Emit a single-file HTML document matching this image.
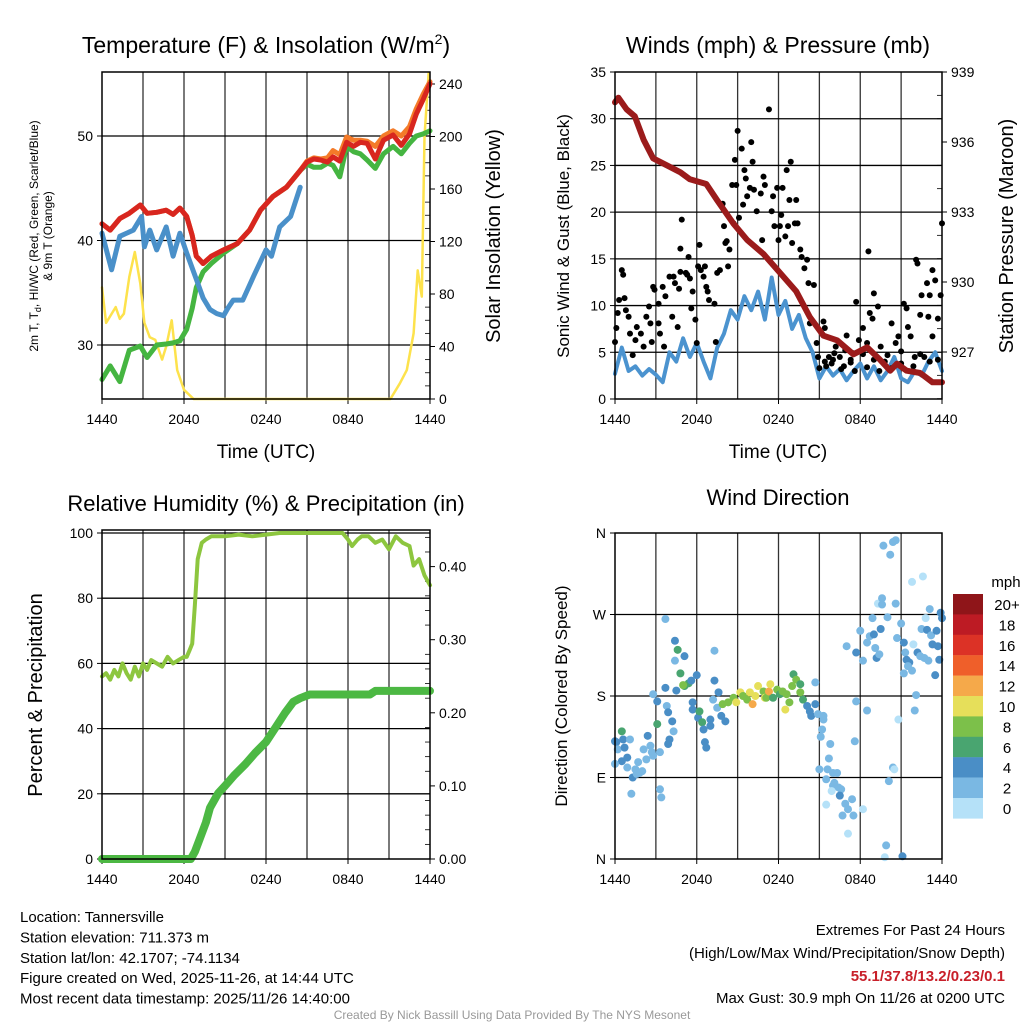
<!DOCTYPE html>
<html><head><meta charset="utf-8"><style>
html,body{margin:0;padding:0;background:#fff;}
svg{display:block;font-family:"Liberation Sans",sans-serif;}
</style></head><body>
<svg id="chart" width="1024" height="1024" viewBox="0 0 1024 1024"></svg>
<script>
// ---------- DATA ----------
const xTickLabels = ["1440","2040","0240","0840","1440"];
// Temperature panel
const tHours = [0,0.6,1.3,2.0,2.8,3.3,4.0,4.7,5.2,5.7,6.2,6.6,6.9,7.4,8.0,8.9,9.9,10.8,11.6,12.5,13.5,14.5,15.0,15.5,16.0,16.5,16.9,17.4,17.9,18.4,18.9,19.4,20.0,20.6,21.3,21.9,22.5,23.0,23.5,24.0];
const tempRed = [41.6,41.0,42.1,42.6,43.4,42.6,42.7,42.9,42.5,43.1,42.3,40.5,38.5,37.8,38.5,39.1,39.7,41.0,42.9,44.2,45.1,46.7,47.5,47.8,47.7,47.5,48.0,47.6,49.4,49.0,49.4,49.3,47.8,49.6,50.1,49.1,50.2,52.1,53.5,55.0];
const temp9mOrange = [41.6,41.0,42.1,42.6,43.4,42.6,42.7,42.9,42.5,43.1,42.3,40.5,38.5,37.8,38.5,39.1,39.7,41.0,42.9,44.2,45.1,46.7,47.6,47.9,47.8,47.9,48.6,48.2,49.9,49.6,49.6,49.5,49.0,50.0,50.5,50.0,50.9,52.6,54.0,55.2];
const dewGreen = [26.7,28.0,26.5,29.5,29.9,28.8,30.0,30.1,30.2,30.4,31.5,33.5,35.5,37.0,37.8,38.8,39.7,41.0,42.9,44.2,45.1,46.7,47.3,47.0,47.0,47.4,47.2,46.1,49.0,48.5,48.3,47.7,46.9,48.3,49.0,48.3,49.3,50.0,50.2,50.5];
const wcHours = [0,0.7,1.3,2.3,2.9,3.1,3.5,4.0,4.7,5.2,5.7,6.2,6.9,7.4,7.9,8.4,8.9,9.2,9.6,10.3,11.1,12.0,12.4,13.0,13.8,14.5];
const windChillBlue = [40.7,37.2,40.4,41.0,42.3,39.4,41.0,39.1,41.3,38.5,40.7,38.8,36.3,34.5,33.4,33.0,32.8,33.5,34.3,34.3,36.6,39.1,38.5,41.3,42.3,45.1];
const solHours = [0,0.3,1.0,1.3,1.6,2.0,2.4,2.8,3.1,3.5,3.9,4.4,4.7,5.1,5.5,6.0,6.7,21.1,21.8,22.3,22.8,23.1,23.4,23.6,23.9];
const solarYellow = [85,58,70,61,65,93,112,88,58,47,45,30,40,60,22,7,0,0,12,22,50,98,78,200,248];
// Winds panel
const presHours = [0,0.25,0.85,1.45,2.1,2.8,3.8,4.8,5.5,6.7,7.5,8.7,9.7,10.9,12.1,13.3,14.3,15.3,16.3,17.5,18.5,19.4,20.2,20.7,21.4,22.4,23.3,24];
const pressureMaroon = [937.7,937.9,937.4,937.1,936.1,935.3,935.0,934.7,934.4,934.2,933.5,932.5,931.8,931.2,930.4,929.6,928.5,927.7,927.5,926.9,927.2,926.7,926.2,926.5,926.2,926.1,925.7,925.7];
const sonicHours = [0,0.5,1,1.5,2,2.5,3,3.5,4,4.5,5,5.5,6,6.5,7,7.5,8,8.5,9,9.5,10,10.5,11,11.5,12,12.5,13,13.5,14,14.5,15,15.5,16,16.5,17,17.5,18,18.5,19,19.5,20,20.5,21,21.5,22,22.5,23,23.5,24];
const sonicWindBlue = [2.7,5.5,3.0,3.5,2.5,3.2,2.6,1.8,5.0,4.0,6.5,4.5,6.0,4.0,2.2,5.5,7.0,9.5,8.5,11.0,9.5,11.5,8.5,13.0,9.0,10.5,7.5,9.0,6.5,5.0,2.2,3.5,2.5,3.2,2.0,3.0,3.8,2.2,3.5,2.0,3.0,4.5,2.2,1.8,3.0,2.5,4.0,5.0,3.0];
const gustHours = [0.0,0.1,0.2,0.5,0.6,0.3,0.7,0.8,1.0,1.1,1.3,1.5,1.6,1.9,2.1,2.3,2.5,2.6,2.7,2.8,2.9,3.2,3.2,3.3,3.5,3.6,3.7,4.0,4.2,4.3,4.4,4.6,4.7,4.8,4.8,4.9,5.2,5.3,5.4,5.5,5.6,5.7,5.9,6.0,6.1,6.2,6.3,6.5,6.6,6.7,6.8,6.9,7.3,7.4,7.5,7.7,7.9,8.0,8.1,8.2,8.3,8.4,8.6,8.7,8.8,8.9,9.0,9.1,9.3,9.4,9.5,9.6,9.7,9.9,10.0,10.1,10.2,10.4,10.7,10.9,11.0,10.8,11.3,11.5,11.6,11.7,11.9,12.0,12.1,12.2,12.3,12.5,12.6,12.7,12.8,12.9,13.0,13.2,13.3,13.4,13.6,13.7,13.9,14.1,14.2,14.6,14.3,14.8,14.9,15.0,15.3,15.4,15.5,15.7,16.0,16.2,16.5,16.8,17.0,17.3,17.5,17.7,17.9,18.2,18.5,18.6,18.7,18.9,19.0,19.3,19.5,20.0,20.3,20.6,20.8,21.0,21.2,21.4,21.5,21.7,22.0,22.1,22.2,22.4,22.5,22.7,22.9,23.0,23.1,23.3,23.3,23.5,23.7,23.9,24.0,15.4,15.9,16.1,16.6,16.9,17.3,17.6,18.2,18.5,19.0,19.4,19.8,20.3,21.0,21.9,22.4,23.1,23.7];
const gustMph = [6.1,7.6,9.2,13.8,13.3,10.6,10.8,9.5,8.8,7.0,4.7,6.3,7.7,7.0,5.6,8.8,9.9,8.1,6.1,12.0,11.7,10.2,8.1,7.0,12.0,5.6,11.0,13.1,8.8,13.1,12.4,7.7,11.8,13.6,16.1,19.2,13.5,13.3,15.2,12.9,9.7,11.5,8.5,6.0,14.2,16.5,13.8,13.1,14.2,12.0,11.5,10.6,10.2,6.1,13.5,13.8,20.9,18.5,16.7,16.9,14.2,16.0,22.9,18.8,25.6,22.9,28.7,19.4,26.8,20.8,24.5,23.6,21.7,22.6,27.5,25.4,22.4,20.1,22.0,23.8,22.9,17.0,31.0,20.1,21.7,18.5,22.6,17.0,18.5,19.7,22.6,17.4,24.5,18.5,21.3,25.4,16.7,18.8,21.3,18.8,16.0,15.2,14.0,14.9,12.4,12.2,8.1,6.0,4.5,3.3,8.3,7.6,3.5,4.5,4.2,5.6,4.5,3.5,6.8,4.2,4.9,10.4,6.3,7.6,6.0,15.8,9.2,8.6,11.3,9.9,5.6,4.7,8.1,6.0,6.7,5.1,10.2,9.7,7.7,6.7,4.5,14.9,14.5,9.0,11.1,4.5,12.4,8.8,11.1,6.7,13.8,12.7,8.6,11.1,18.8,4.0,3.8,4.9,3.2,5.2,3.9,3.0,4.8,3.4,4.2,3.0,4.0,3.3,3.8,3.5,4.8,4.0,4.2];
// RH / precip panel
const rhHours = [0,0.3,0.6,0.9,1.2,1.5,1.8,2.1,2.4,2.7,3.0,3.3,3.6,4.0,4.4,4.8,5.2,5.6,6.0,6.2,6.4,6.6,6.8,7.0,7.3,7.6,8,9,10,11,12,13,14,15,16,17,17.6,18,18.3,18.7,19.0,19.5,20,20.5,21,21.5,22,22.5,22.8,23.2,23.6,24];
const rhLightGreen = [56,57,55,58,56,60,57,55,59,56,60,58,61,60,59,62,60,61,62,62,64,66,78,92,97,98,99,99,99.5,99,99.5,100,100,100,100,100,100,98,96,98,99,99,97,98,95,99,97,96,90,92,87,84];
const pcpHours = [0,6.0,6.5,6.8,7.2,7.6,7.9,8.5,9.0,9.7,10.5,11.2,12.0,12.7,13.4,14.0,14.5,15.2,16.0,18,19.6,20.0,24];
const precipGreen = [0,0,0,0.01,0.03,0.05,0.07,0.09,0.10,0.115,0.13,0.145,0.16,0.18,0.20,0.215,0.22,0.225,0.225,0.225,0.225,0.23,0.23];
// Wind direction panel
const dirHours = [0,0.1,0.2,0.5,0.6,0.7,0.5,0,0.9,0.9,1.1,1.2,1.3,1.5,1.6,1.8,1.7,2.0,2.1,2.3,2.4,2.6,2.7,2.8,3.1,3.3,3.3,3.4,2.8,3.1,3.7,3.8,3.9,4.2,4.0,3.9,4.3,3.7,4.4,4.6,5.1,4.4,4.8,5.1,5.4,5.6,6.0,4.5,5.0,5.7,5.7,6.1,6.2,6.4,6.5,6.7,6.6,7.0,7.0,7.3,7.3,7.6,7.2,7.5,7.8,8.1,7.9,8.3,8.7,8.9,9.2,9.4,9.7,9.9,10.1,10.3,10.5,10.9,11.0,11.1,11.3,11.4,11.6,11.9,12.1,12.3,12.5,12.6,12.8,13.0,13.1,13.3,13.6,13.6,13.8,14.1,14.3,14.4,14.7,14.7,14.9,15.3,15.3,15.2,15.1,15.0,15.8,15.7,15.6,15.5,16.0,16.3,16.1,16.4,16.0,16.6,16.5,16.9,17.1,17.4,17.5,16.7,17.1,15.5,15.9,17.6,18.2,17.7,18.5,17.0,17.7,18.0,18.2,18.5,18.7,19.0,19.2,19.4,19.5,19.1,18.9,19.3,19.6,19.6,20.0,20.6,19.7,20.2,20.4,20.6,20.4,20.5,20.1,20.8,21.0,20.7,21.2,21.3,21.2,21.4,21.6,21.8,21.5,21.9,22.1,22.0,21.8,22.6,22.2,22.4,22.5,22.7,22.9,23.0,22.8,23.1,23.2,23.3,23.5,23.6,23.7,23.8,23.9,24.0,19.9,19.8,21.1];
const dirDeg = [130,129,121,141,132,123,108,105,112,101,132,72,90,99,94,95,107,97,121,110,136,125,118,114,149,118,77,68,182,174,189,169,162,152,132,127,141,265,241,231,224,219,205,191,194,197,203,186,192,173,165,156,163,151,143,123,129,147,154,197,230,184,176,167,158,152,171,173,178,173,184,180,176,184,171,180,191,185,178,178,185,193,178,187,182,185,165,182,173,191,204,198,193,184,176,169,163,158,171,195,160,158,154,143,135,99,127,111,99,88,95,95,84,79,81,77,70,61,55,66,48,48,28,60,75,130,55,174,164,235,228,252,219,239,246,248,222,226,254,233,266,282,288,281,267,282,346,336,350,352,101,99,86,154,260,244,239,228,205,220,217,208,213,237,181,164,306,312,228,224,254,222,253,219,266,276,247,237,203,252,235,220,272,266,15,2,3];
const dirSpeed = [5,5,3,7,5,5,5,3,5,3,3,3,5,3,3,3,3,3,3,3,5,3,3,3,7,3,3,3,3,5,5,3,5,5,5,5,3,3,5,7,5,3,7,7,7,5,5,5,9,5,5,5,7,7,5,5,5,5,5,5,3,5,3,3,5,5,9,9,9,11,11,9,9,11,13,11,11,9,11,9,13,11,7,9,7,9,11,9,9,9,7,9,7,9,7,5,5,5,5,3,3,3,3,3,3,3,3,3,3,3,3,3,3,3,3,3,5,3,3,3,3,3,1,1,1,3,1,3,3,3,5,3,3,3,3,5,5,3,5,3,3,1,3,3,3,3,3,3,3,3,3,1,3,1,3,3,5,3,3,5,5,3,3,1,3,3,1,1,5,3,3,3,5,3,1,3,3,5,5,5,5,5,5,5,3,1,5];
const legendLabels = ["20+","18","16","14","12","10","8","6","4","2","0"];
const legendColors = ["#8f1519","#bd1b24","#dc3226","#ef5f2a","#f5a94a","#e6df5a","#7cc04a","#49a570","#4a8ec6","#7ab8e3","#b5e1f8"];

// ---------- HELPERS ----------
const NS="http://www.w3.org/2000/svg";
const svg=document.getElementById('chart');
function mk(tag,attrs,parent){const e=document.createElementNS(NS,tag);for(const k in attrs)e.setAttribute(k,attrs[k]);(parent||svg).appendChild(e);return e;}
function txt(x,y,s,size,anchor,extra){const e=mk('text',Object.assign({x:x,y:y,'font-size':size,'text-anchor':anchor||'middle',fill:'#000'},extra||{}));e.textContent=s;return e;}
function panel(x0,x1,y0,y1){return {x0,x1,y0,y1,x:h=>x0+(x1-x0)*h/24};}
function frame(p,name){
  for(let k=1;k<8;k++){const x=p.x(k*3);const l=mk('line',{x1:x,x2:x,y1:p.y0,y2:p.y1,stroke:'#333','stroke-width':1.3});
    
    }
  xTickLabels.forEach((s,i)=>{const x=p.x(i*6);const t=txt(x,p.y1+25,s,14);
    
    
    mk('line',{x1:x,x2:x,y1:p.y1,y2:p.y1+5,stroke:'#000','stroke-width':1});});
}
function border(p,name){const r=mk('rect',{x:p.x0,y:p.y0,width:p.x1-p.x0,height:p.y1-p.y0,fill:'none',stroke:'#000','stroke-width':1.5});
  
  }
function hgrid(p,y,name){const l=mk('line',{x1:p.x0,x2:p.x1,y1:y,y2:y,stroke:'#000','stroke-width':1.3});
  
  }
function ytick(p,y,s,side,name,size){const x=side==='l'?p.x0:p.x1;const d=side==='l'?-5:5;
  mk('line',{x1:x,x2:x+d,y1:y,y2:y,stroke:'#000','stroke-width':1});
  const t=txt(side==='l'?x-9:x+9,y+5,s,size||14,side==='l'?'end':'start');
  
  }
function minor(p,y,side){const x=side==='l'?p.x0:p.x1;const d=side==='l'?5:-5;mk('line',{x1:x,x2:x+d,y1:y,y2:y,stroke:'#000','stroke-width':0.8});}
function poly(p,hs,vs,ys,color,w,name){const pts=hs.map((h,i)=>p.x(h).toFixed(1)+','+ys(vs[i]).toFixed(1)).join(' ');
  const e=mk('polyline',{points:pts,fill:'none',stroke:color,'stroke-width':w,'stroke-linejoin':'round','stroke-linecap':'round'});
  
  return e;}
function rotText(x,y,s,size,name){const t=txt(x,y,s,size,'middle',{transform:`rotate(-90 ${x} ${y})`});
  
  return t;}
function title(x,y,s,size,name){const t=txt(x,y,s,size);
  
  return t;}

// ---------- PANEL 1: Temperature ----------
const P1=panel(102,430,72,399);
const yT=v=>136+(50-v)*10.45, yS=v=>399-v*315/240;
frame(P1,'temp');
[30,40,50].forEach(v=>{hgrid(P1,yT(v),'temp');ytick(P1,yT(v),String(v),'l','temp');});
for(let w=0;w<=240;w+=10){if(w%40===0)ytick(P1,yS(w),String(w),'r','insolation');else minor(P1,yS(w),'r');}
poly(P1,solHours,solarYellow,yS,'#fde24c',2.5,'solar-insolation-line');
poly(P1,tHours,dewGreen,yT,'#45b541',5,'dewpoint-line');
poly(P1,tHours,temp9mOrange,yT,'#f47b29',5,'temp-9m-line');
poly(P1,tHours,tempRed,yT,'#d8261f',5,'temp-2m-line');
poly(P1,wcHours,windChillBlue,yT,'#4a90c9',5,'wind-chill-line');
border(P1,'temp');
{const t=txt(266,53,'Temperature (F) & Insolation (W/m',23);
 const s=mk('tspan',{dy:-9,'font-size':14},t);s.textContent='2';const s2=mk('tspan',{dy:9},t);s2.textContent=')';}
title(266,458,'Time (UTC)',19,'temp-x-axis-title');
{const t=rotText(38,236,'',12,'temp-y-axis-title');t.textContent='2m T, T';const s=mk('tspan',{dy:3,'font-size':9},t);s.textContent='d';const s2=mk('tspan',{dy:-3},t);s2.textContent=', HI/WC (Red, Green, Scarlet/Blue)';}
rotText(52,236,'& 9m T (Orange)',12,'temp-y-axis-title-2');
rotText(500,236,'Solar Insolation (Yellow)',20,'insolation-y-axis-title');

// ---------- PANEL 2: Winds ----------
const P2=panel(615,942,72,399);
const yW=v=>399-v*327/35, yP=v=>72+(939-v)*70/3;
frame(P2,'winds');
for(let v=0;v<=35;v+=5){if(v>0&&v<35)hgrid(P2,yW(v),'winds');ytick(P2,yW(v),String(v),'l','wind');}
for(let p=925;p<=939;p++){if((p-927)%3===0)ytick(P2,yP(p),String(p),'r','pressure');else minor(P2,yP(p),'r');}
poly(P2,sonicHours,sonicWindBlue,yW,'#4b93cf',4,'sonic-wind-line');
gustHours.forEach((h,i)=>{const c=mk('circle',{cx:P2.x(h),cy:yW(gustMph[i]),r:3,fill:'#000'});
  
  });
poly(P2,presHours,pressureMaroon,yP,'#9b1b1b',6,'pressure-line');
border(P2,'winds');
title(778,53,'Winds (mph) & Pressure (mb)',23,'winds-panel-title');
title(778,458,'Time (UTC)',19,'winds-x-axis-title');
rotText(569,236,'Sonic Wind & Gust (Blue, Black)',17,'winds-y-axis-title');
rotText(1013,236,'Station Pressure (Maroon)',20,'pressure-y-axis-title');

// ---------- PANEL 3: RH ----------
const P3=panel(102,430,530,859);
const yR=v=>859-v*3.26, yPc=v=>859-v*731;
frame(P3,'rh');
for(let v=0;v<=100;v+=20){if(v>0)hgrid(P3,yR(v),'rh');ytick(P3,yR(v),String(v),'l','rh');}
for(let k=0;k<=45;k+=2){const v=k/100;if(k%10===0)ytick(P3,yPc(v),v.toFixed(2),'r','precip');}
for(let k=0;k<=45;k+=2){if(k%10!==0)minor(P3,yPc(k/100),'r');}
poly(P3,rhHours,rhLightGreen,yR,'#8dc63f',4,'relative-humidity-line');
poly(P3,pcpHours,precipGreen,yPc,'#4cb843',8,'precipitation-line');
border(P3,'rh');
title(266,511,'Relative Humidity (%) & Precipitation (in)',22,'rh-panel-title');
rotText(42,695,'Percent & Precipitation',20,'rh-y-axis-title');

// ---------- PANEL 4: Wind direction ----------
const P4=panel(615,942,533,859);
const yD=v=>859-v*326/360;
frame(P4,'direction');
[["N",0],["E",90],["S",180],["W",270],["N",360]].forEach(([s,d])=>{if(d>0&&d<360)hgrid(P4,yD(d),'direction');ytick(P4,yD(d),s,'l','direction');});
function spdColor(s){let idx=Math.min(10,Math.floor(s/2));return legendColors[10-idx];}
dirHours.forEach((h,i)=>{const c=mk('circle',{cx:P4.x(h),cy:yD(dirDeg[i]),r:4,fill:spdColor(dirSpeed[i])});
  
  });
border(P4,'direction');
title(778,505,'Wind Direction',22,'direction-panel-title');
rotText(567,696,'Direction (Colored By Speed)',17,'direction-y-axis-title');
title(1006,587,'mph',15,'legend-title');
legendLabels.forEach((s,i)=>{const y=594+i*20.4;
  const r=mk('rect',{x:953,y:y,width:30,height:20.6,fill:legendColors[i]});
  
  
  const t=txt(1007,y+16,s,15);
  
  });

// ---------- FOOTER ----------
const leftLines=["Location: Tannersville","Station elevation: 711.373 m","Station lat/lon: 42.1707; -74.1134","Figure created on Wed, 2025-11-26, at 14:44 UTC","Most recent data timestamp: 2025/11/26 14:40:00"];
leftLines.forEach((s,i)=>{const t=txt(20,922+i*20.4,s,15,'start');
  
  });
[["Extremes For Past 24 Hours",935,'#000','normal'],["(High/Low/Max Wind/Precipitation/Snow Depth)",958,'#000','normal'],["55.1/37.8/13.2/0.23/0.1",981,'#c8202a','bold'],["Max Gust: 30.9 mph On 11/26 at 0200 UTC",1003,'#000','normal']].forEach(([s,y,c,w])=>{
  const t=txt(1005,y,s,15,'end',{fill:c,'font-weight':w});
  
  });
{const t=txt(512,1019,'Created By Nick Bassill Using Data Provided By The NYS Mesonet',12,'middle',{fill:'#999'});
 
 }
</script>
</body></html>
